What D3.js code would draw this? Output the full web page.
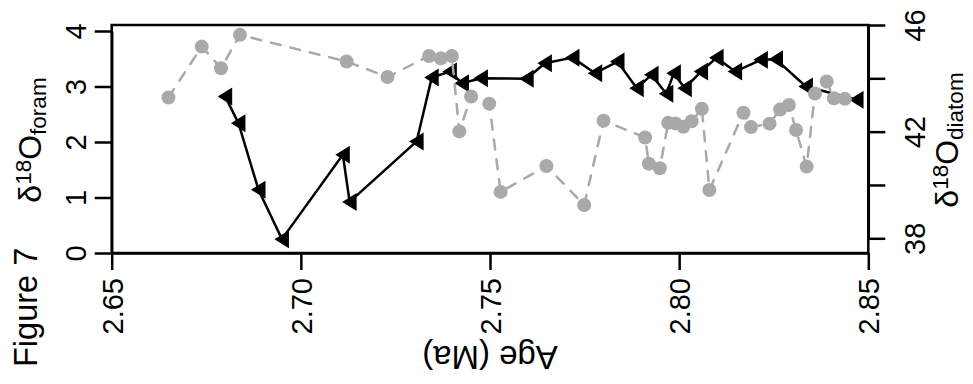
<!DOCTYPE html>
<html>
<head>
<meta charset="utf-8">
<script src="https://cdn.jsdelivr.net/npm/d3@7"></script>
<style>
  html, body { margin: 0; padding: 0; background: #fff; }
  svg { display: block; font-family: "Liberation Sans", Arial, Helvetica, sans-serif; }
</style>
</head>
<body>
<svg id="chart" width="973" height="384"></svg>
<script>
// ---- data ----
const foramAge = [2.6800, 2.6835, 2.6888, 2.6950, 2.7111, 2.7129, 2.7306, 2.7346, 2.7394, 2.7426,
                  2.7476, 2.7597, 2.7645, 2.7718, 2.7778, 2.7837, 2.7888, 2.7927, 2.7966, 2.7986,
                  2.8015, 2.8058, 2.8099, 2.8148, 2.8216, 2.8256, 2.8335, 2.8469];
const foramD18O = [2.82, 2.34, 1.14, 0.25, 1.77, 0.92, 2.01, 3.16, 3.27, 3.06,
                   3.15, 3.14, 3.42, 3.52, 3.24, 3.45, 2.97, 3.21, 2.87, 3.24,
                   2.97, 3.27, 3.52, 3.27, 3.48, 3.49, 3.00, 2.76];
const diatomAge = [2.6650, 2.6738, 2.6789, 2.6839, 2.7121, 2.7229, 2.7339, 2.7370, 2.7399, 2.7419,
                   2.7450, 2.7498, 2.7528, 2.7649, 2.7749, 2.7800, 2.7910, 2.7920, 2.7949, 2.7971,
                   2.7990, 2.8011, 2.8033, 2.8060, 2.8080, 2.8170, 2.8190, 2.8239, 2.8267, 2.8290,
                   2.8309, 2.8337, 2.8359, 2.8390, 2.8409, 2.8438];
const diatomD18O = [43.28, 45.19, 44.38, 45.63, 44.63, 44.05, 44.84, 44.75, 44.84, 42.01,
                    43.32, 43.05, 39.74, 40.71, 39.25, 42.41, 41.78, 40.80, 40.63, 42.33,
                    42.31, 42.18, 42.39, 42.86, 39.81, 42.71, 42.17, 42.30, 42.83, 43.00,
                    42.06, 40.69, 43.43, 43.88, 43.25, 43.23];
const xTicks = [2.65, 2.70, 2.75, 2.80, 2.85];
const xTickLabels = ["2.65", "2.70", "2.75", "2.80", "2.85"];
const yLeftTicks = [0, 1, 2, 3, 4];
const yRightTicks = [38, 40, 42, 44, 46];
const yRightLabelled = [38, 42, 46];
const xTitle = "Age (Ma)";
const figureLabel = "Figure 7";

// ---- layout ----
const L = 111.7, R = 868.3, T = 25, B = 253;
const svg = d3.select("#chart");
svg.append("rect").attr("width", 973).attr("height", 384).attr("fill", "#fff");

const x = d3.scaleLinear().domain([2.65, 2.85]).range([L, R]);
const yL = d3.scaleLinear().domain([0, 4]).range([253, 31]);
const yR = d3.scaleLinear().domain([38, 46]).range([238.3, 25]);

const tickFont = 29, lw = 2.5;

// box
svg.append("rect").attr("x", L).attr("y", T).attr("width", R - L).attr("height", B - T)
  .attr("fill", "none").attr("stroke", "#000").attr("stroke-width", lw);

function styleAxis(g) {
  g.selectAll("path.domain").attr("stroke-width", lw).attr("stroke", "#000");
  g.selectAll(".tick line").attr("stroke-width", lw).attr("stroke", "#000");
  g.selectAll(".tick text").attr("font-size", tickFont).attr("fill", "#000")
    .attr("font-family", "'Liberation Sans', Arial, Helvetica, sans-serif")
    .attr("x", null).attr("y", null).attr("dy", null).attr("dx", null);
}

// bottom axis
const gx = svg.append("g").attr("transform", `translate(0,${B})`)
  .call(d3.axisBottom(x).tickValues(xTicks).tickFormat((d, i) => xTickLabels[i]).tickSize(17).tickSizeOuter(0));
styleAxis(gx);
gx.selectAll(".tick text").attr("text-anchor", "end").attr("transform", "translate(10.5,25) rotate(-90)");

// left axis
const gyl = svg.append("g").attr("transform", `translate(${L},0)`)
  .call(d3.axisLeft(yL).tickValues(yLeftTicks).tickFormat(d3.format("d")).tickSize(17).tickSizeOuter(0));
styleAxis(gyl);
gyl.selectAll(".tick text").attr("text-anchor", "middle").attr("transform", "translate(-26,0) rotate(-90)");

// right axis
const gyr = svg.append("g").attr("transform", `translate(${R},0)`)
  .call(d3.axisRight(yR).tickValues(yRightTicks)
    .tickFormat(d => yRightLabelled.includes(d) ? String(d) : "").tickSize(17).tickSizeOuter(0));
styleAxis(gyr);
gyr.selectAll(".tick text").attr("text-anchor", "middle").attr("transform", "translate(57,0) rotate(-90)");

// foram series (black, solid, left-pointing triangles)
const foram = foramAge.map((a, i) => [a, foramD18O[i]]);
svg.append("path").datum(foram)
  .attr("d", d3.line().x(d => x(d[0])).y(d => yL(d[1])))
  .attr("fill", "none").attr("stroke", "#000").attr("stroke-width", 2.5)
  .attr("stroke-linejoin", "round").attr("stroke-linecap", "round");
const tri = "M-7.5,0 L7,-9 L7,9 Z";
svg.append("g").selectAll("path").data(foram).join("path")
  .attr("d", tri)
  .attr("transform", d => `translate(${x(d[0])},${yL(d[1])})`)
  .attr("fill", "#000");

// diatom series (grey, dashed, circles)
const diatom = diatomAge.map((a, i) => [a, diatomD18O[i]]);
const grey = "#a9a9a9";
svg.append("path").datum(diatom)
  .attr("d", d3.line().x(d => x(d[0])).y(d => yR(d[1])))
  .attr("fill", "none").attr("stroke", grey).attr("stroke-width", 2.5)
  .attr("stroke-dasharray", "10,10").attr("stroke-linecap", "round").attr("stroke-linejoin", "round");
svg.append("g").selectAll("circle").data(diatom).join("circle")
  .attr("cx", d => x(d[0])).attr("cy", d => yR(d[1])).attr("r", 7)
  .attr("fill", grey);

// titles
const titleFont = 32, subFont = 22.5;
function deltaTitle(px, py, sub) {
  const t = svg.append("text").attr("transform", `translate(${px},${py}) rotate(-90)`)
    .attr("text-anchor", "middle").attr("font-size", titleFont).attr("fill", "#000");
  t.append("tspan").text("δ");
  t.append("tspan").attr("font-size", subFont).attr("dy", -10).text("18");
  t.append("tspan").attr("dy", 10).text("O");
  t.append("tspan").attr("font-size", subFont).attr("dy", 5).text(sub);
}
deltaTitle(41, 140, "foram");
deltaTitle(958, 140, "diatom");

svg.append("text").attr("transform", `translate(${(L + R) / 2},346) rotate(180)`)
  .attr("text-anchor", "middle").attr("font-size", 33).attr("fill", "#000").text(xTitle);

svg.append("text").attr("transform", "translate(37,367) rotate(-90)")
  .attr("text-anchor", "start").attr("font-size", 32.5).attr("fill", "#000").text(figureLabel);
</script>
</body>
</html>
